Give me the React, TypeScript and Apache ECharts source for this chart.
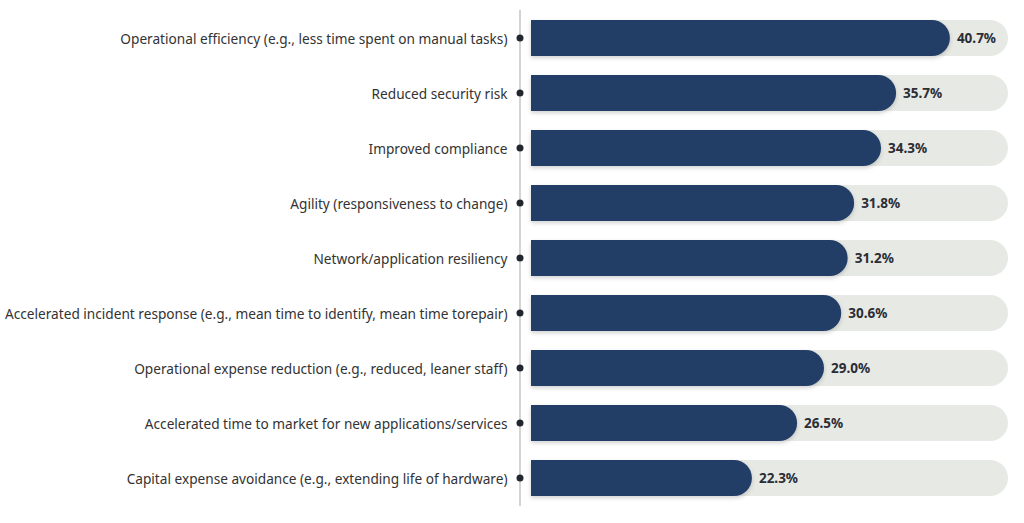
import React, { useEffect, useRef } from "react";
import * as echarts from "echarts";

const categories = [
  "Operational efficiency (e.g., less time spent on manual tasks)",
  "Reduced security risk",
  "Improved compliance",
  "Agility (responsiveness to change)",
  "Network/application resiliency",
  "Accelerated incident response (e.g., mean time to identify, mean time torepair)",
  "Operational expense reduction (e.g., reduced, leaner staff)",
  "Accelerated time to market for new applications/services",
  "Capital expense avoidance (e.g., extending life of hardware)",
];
const values = [40.7, 35.7, 34.3, 31.8, 31.2, 30.6, 29.0, 26.5, 22.3];

export default function App() {
  const ref = useRef<HTMLDivElement>(null);
  useEffect(() => {
    const chart = echarts.init(ref.current!, null, { renderer: "svg" });
    chart.setOption({
      animation: false,
      backgroundColor: "#ffffff",
      grid: { left: 531, right: 16, top: 10.5, bottom: 17.5 },
      xAxis: {
        type: "value",
        min: 1.77,
        max: 46.1,
        show: false,
      },
      yAxis: {
        type: "category",
        data: categories,
        inverse: true,
        offset: 11,
        axisLine: { show: true, lineStyle: { color: "#c4c4c4", width: 1.5 } },
        axisTick: { show: false },
        axisLabel: {
          margin: -3.5,
          formatter: (v: string) => `{t|${v}}{g| }{d| }`,
          rich: {
            t: { fontFamily: "Noto Sans", fontSize: 13.65, color: "#333333" },
            g: { width: 9 },
            d: { width: 7, height: 7, borderRadius: 3.5, backgroundColor: "#22262e" },
          },
        },
      },
      series: [
        {
          type: "bar",
          data: values,
          barWidth: 36,
          showBackground: true,
          backgroundStyle: { color: "#e7e9e5", borderRadius: [0, 18, 18, 0] },
          itemStyle: {
            color: "#213d66",
            borderRadius: [0, 18, 18, 0],
            shadowColor: "rgba(0,0,0,0.18)",
            shadowBlur: 4,
            shadowOffsetY: 2,
          },
          label: {
            show: true,
            position: "right",
            distance: 7,
            formatter: (p: any) => `${p.value.toFixed(1)}%`,
            fontFamily: "Noto Sans",
            fontWeight: "bold",
            fontSize: 13.5,
            color: "#2b2d35",
          },
        },
      ],
    });
    return () => chart.dispose();
  }, []);
  return <div ref={ref} style={{ width: 1024, height: 523, position: "absolute", left: 0, top: 0 }} />;
}
